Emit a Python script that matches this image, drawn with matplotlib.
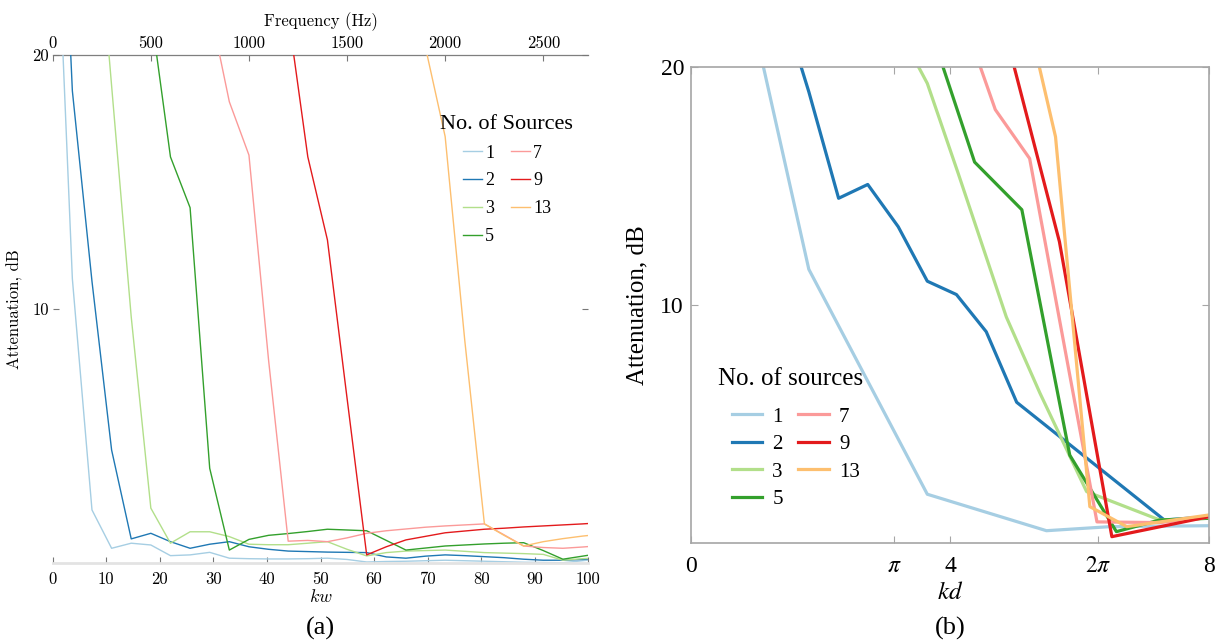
import numpy as np
import matplotlib.pyplot as plt

# (a): attenuation vs kw, one value every 100 Hz (values above 20 dB are cut off by the axis)
freq_a = [0, 100, 200, 300, 400, 500, 600, 700, 800, 900, 1000, 1100, 1200, 1300, 1400,
          1500, 1600, 1700, 1800, 1900, 2000, 2100, 2200, 2300, 2400, 2500, 2600, 2700, 2800]
att_a_1 = [29.7, 11.2, 2.1, 0.59, 0.79, 0.72, 0.3, 0.33, 0.43, 0.2, 0.18, 0.17, 0.17, 0.18, 0.2,
           0.15, 0.05, 0.07, 0.08, 0.1, 0.12, 0.1, 0.08, 0.06, 0.04, 0.03, 0.02, 0.1, 0.18]
att_a_2 = [35.8, 18.6, 11.1, 4.46, 0.96, 1.18, 0.85, 0.59, 0.75, 0.85, 0.65, 0.55, 0.48, 0.46, 0.44,
           0.43, 0.42, 0.25, 0.2, 0.28, 0.33, 0.3, 0.26, 0.22, 0.16, 0.12, 0.12, 0.15, 0.2]
att_a_3 = [45, 38, 28, 18.8, 9.7, 2.17, 0.79, 1.24, 1.24, 1.05, 0.75, 0.73, 0.73, 0.79, 0.85,
           0.55, 0.29, 0.42, 0.48, 0.5, 0.52, 0.47, 0.42, 0.4, 0.38, 0.35, 0.12, 0.18, 0.22]
att_a_5 = [60, 55, 48, 40, 30, 21.7, 16.0, 14.0, 3.74, 0.52, 0.94, 1.1, 1.17, 1.25, 1.34,
           1.31, 1.28, 0.9, 0.52, 0.6, 0.68, 0.72, 0.76, 0.79, 0.81, 0.5, 0.16, 0.28, 0.4]
att_a_7 = [70, 65, 60, 55, 48, 40, 34, 28, 21.9, 18.17, 16.07, 8.0, 0.87, 0.9, 0.85,
           1.0, 1.18, 1.28, 1.35, 1.42, 1.47, 1.51, 1.55, 1.12, 0.68, 0.62, 0.59, 0.64, 0.7]
att_a_9 = [80, 75, 70, 65, 60, 55, 50, 45, 40, 36, 33, 30, 21.6, 16.0, 12.73,
           6.5, 0.33, 0.65, 0.92, 1.06, 1.2, 1.27, 1.34, 1.38, 1.43, 1.47, 1.51, 1.55, 1.6]
att_a_13 = [90, 85, 80, 75, 70, 65, 60, 55, 50, 47, 44, 41, 38, 36, 34,
            32, 31, 30, 28, 20.3, 16.8, 8.77, 1.55, 1.1, 0.68, 0.85, 0.97, 1.07, 1.15]

# (b): attenuation vs kd, break points
kd_b_1 = [0.92, 1.82, 3.65, 5.49, 6.47, 8.0]
att_b_1 = [22.4, 11.5, 2.06, 0.53, 0.70, 0.74]
kd_b_2 = [1.37, 1.82, 2.28, 2.73, 3.20, 3.65, 4.10, 4.56, 5.03, 7.31, 8.0]
att_b_2 = [22.9, 18.95, 14.48, 15.06, 13.29, 11.0, 10.44, 8.88, 5.92, 0.98, 1.12]
kd_b_3 = [3.2, 3.65, 4.13, 4.87, 5.39, 6.11, 7.24, 8.0]
att_b_3 = [21.6, 19.3, 15.5, 9.5, 6.3, 2.17, 0.98, 1.05]
kd_b_5 = [3.5, 4.38, 5.11, 5.85, 6.57, 7.24, 8.0]
att_b_5 = [23.2, 16.0, 14.0, 3.7, 0.49, 0.98, 1.05]
kd_b_7 = [4.3, 4.70, 5.23, 6.27, 7.24, 8.0]
att_b_7 = [21.3, 18.2, 16.15, 0.9, 0.87, 1.1]
kd_b_9 = [4.6, 5.69, 6.50, 8.0]
att_b_9 = [24.1, 12.66, 0.28, 1.12]
kd_b_13 = [5.2, 5.63, 6.16, 6.73, 8.0]
att_b_13 = [22.1, 17.06, 1.54, 0.7, 1.19]

sources = ['1', '2', '3', '5', '7', '9', '13']
colors = ['#a6cee3', '#1f78b4', '#b2df8a', '#33a02c', '#fb9a99', '#e31a1c', '#fdbf6f']

c = 343.0   # speed of sound
w = 2.0     # width used for kw

def kw2f(x):
    return x * c / (2 * np.pi * w)

def f2kw(f):
    return 2 * np.pi * w * np.asarray(f) / c

kw = f2kw(freq_a)
cm = 'cmr10'
times = 'Liberation Serif'

fig = plt.figure(figsize=(12.18, 6.43), dpi=100)

# ---------------- (a)
ax1 = fig.add_axes([0.0433, 0.124, 0.4397, 0.790])
series_a = [att_a_1, att_a_2, att_a_3, att_a_5, att_a_7, att_a_9, att_a_13]
for vals, col, lab in zip(series_a, colors, sources):
    ax1.plot(kw, vals, color=col, lw=1.0, label=lab)
ax1.set_xlim(0, 100)
ax1.set_ylim(0, 20)
ax1.set_xticks(np.arange(0, 101, 10))
ax1.set_yticks([10, 20])
for s in ['left', 'right', 'top']:
    ax1.spines[s].set_visible(False)
ax1.spines['bottom'].set_color('#e3e3e3')
ax1.spines['bottom'].set_linewidth(2)
ax1.tick_params(direction='in', length=4, color='#777777', width=0.8, right=True,
                labelsize=12, pad=6)
ax1.tick_params(axis='y', pad=3)
for t in ax1.get_xticklabels() + ax1.get_yticklabels():
    t.set_family(cm)
ax1.set_xlabel('$kw$', fontsize=13, math_fontfamily='cm', labelpad=1)
ax1.set_ylabel('Attenuation, dB', fontsize=12, family=cm)
ax1.yaxis.set_label_coords(-0.056, 0.5)

sec = ax1.secondary_xaxis('top', functions=(kw2f, f2kw))
sec.set_xticks([0, 500, 1000, 1500, 2000, 2500])
sec.spines['top'].set_color('#7f7f7f')
sec.spines['top'].set_linewidth(0.9)
sec.tick_params(direction='in', length=4, color='#777777', labelsize=12, pad=3)
for t in sec.get_xticklabels():
    t.set_family(cm)
sec.set_xlabel('Frequency (Hz)', fontsize=12, family=cm, labelpad=7)

ax1.legend(title='No. of Sources', ncol=2, loc='upper left', bbox_to_anchor=(0.724, 0.883),
           frameon=False, prop={'family': times, 'size': 13},
           title_fontproperties={'family': times, 'size': 16},
           handlelength=1.05, handletextpad=0.2, columnspacing=0.9, labelspacing=0.6,
           borderpad=0, borderaxespad=0)

# ---------------- (b)
ax2 = fig.add_axes([0.5673, 0.155, 0.4253, 0.7412])
kd_b = [kd_b_1, kd_b_2, kd_b_3, kd_b_5, kd_b_7, kd_b_9, kd_b_13]
series_b = [att_b_1, att_b_2, att_b_3, att_b_5, att_b_7, att_b_9, att_b_13]
for x, vals, col, lab in zip(kd_b, series_b, colors, sources):
    ax2.plot(x, vals, color=col, lw=2.3, label=lab)
ax2.set_xlim(0, 8)
ax2.set_ylim(0, 20)
ax2.set_xticks([0, np.pi, 4, 2 * np.pi, 8])
ax2.set_xticklabels(['0', r'$\pi$', '4', r'$2\pi$', '8'])
ax2.set_yticks([10, 20])
for s in ax2.spines.values():
    s.set_color('#a6a6a6')
    s.set_linewidth(1.2)
ax2.tick_params(direction='in', length=5, color='#a6a6a6', top=True, right=True,
                labelsize=17, pad=9)
ax2.tick_params(axis='y', pad=5)
for t in ax2.get_xticklabels() + ax2.get_yticklabels():
    t.set_family(times)
    t.set_math_fontfamily('stix')
ax2.set_xlabel('$kd$', fontsize=18, math_fontfamily='stix', labelpad=2)
ax2.set_ylabel('Attenuation, dB', fontsize=18, family=times)
ax2.yaxis.set_label_coords(-0.083, 0.5)

ax2.text(0.052, 0.345, 'No. of sources', transform=ax2.transAxes, fontsize=18,
         family=times, ha='left', va='center')
ax2.legend(ncol=2, loc='upper left', bbox_to_anchor=(0.0786, 0.286),
           frameon=False, prop={'family': times, 'size': 15},
           handlelength=1.45, handletextpad=0.5, columnspacing=0.75, labelspacing=0.38,
           borderpad=0, borderaxespad=0)

fig.text(0.2633, 0.0233, '(a)', fontsize=19, family=times, ha='center', va='center')
fig.text(0.780, 0.0233, '(b)', fontsize=19, family=times, ha='center', va='center')

fig.savefig('out.png', dpi=100)
